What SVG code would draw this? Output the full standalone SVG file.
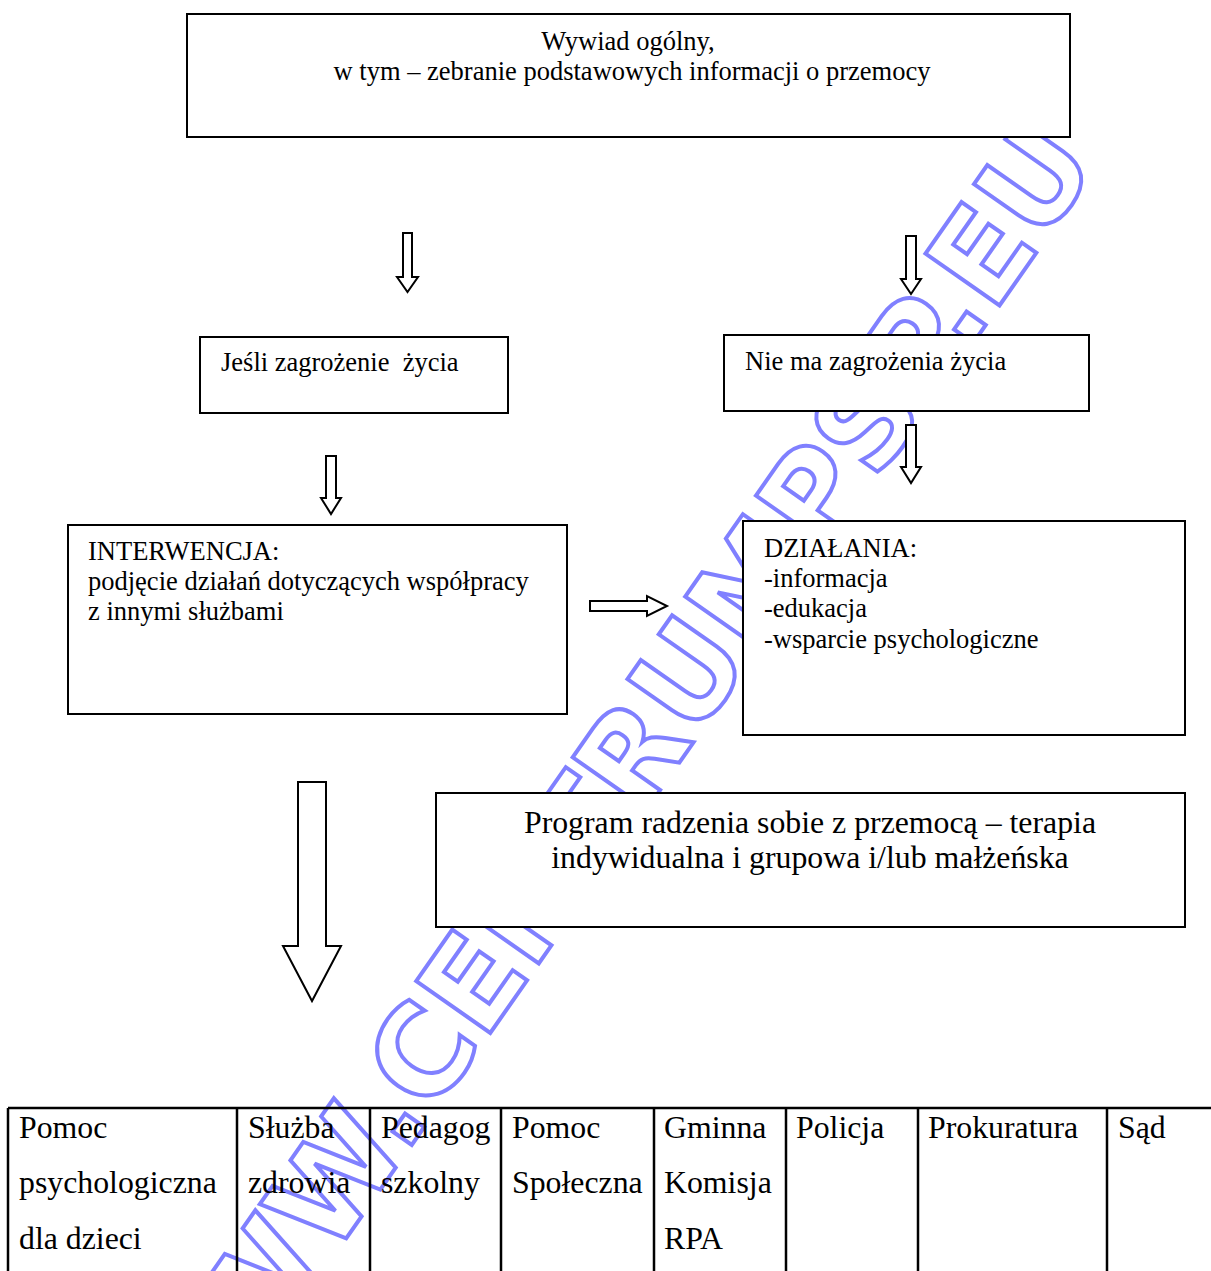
<svg xmlns="http://www.w3.org/2000/svg" width="1211" height="1271" viewBox="0 0 1211 1271">
<style>
.box{fill:#fff;stroke:#000;stroke-width:2}
.arr{fill:#fff;stroke:#000;stroke-width:2;stroke-linejoin:miter}
.t{font-family:"Liberation Serif","Times New Roman",serif;font-size:26.5px;fill:#000}
.tc{text-anchor:middle}
.big{font-size:31.8px}
.wm{font-family:"DejaVu Sans",Verdana,sans-serif;font-weight:bold;font-size:124px;fill:none;stroke:#8080ff;stroke-width:4}
.grid{stroke:#000;stroke-width:2.5;fill:none}
</style>
<rect width="1211" height="1271" fill="#fff"/>
<g id="watermark">
<text class="wm" transform="translate(174.9,1483.1) rotate(-55)">WWW.CENTRUMPSP.EU</text>
</g>
<g id="connectors">
<path class="arr" d="M403,233 H412 V277 H418 L407.5,292 L397,277 H403 Z"/>
<path class="arr" d="M906,236 H916 V279 H921 L911,294 L901,279 H906 Z"/>
<path class="arr" d="M326,456 H336 V498 H341 L331,514 L321,498 H326 Z"/>
<path class="arr" d="M906,425 H916 V467 H921 L911,483 L901,467 H906 Z"/>
<path class="arr" d="M590,601 H647 V596 L667,606 L647,616 V611 H590 Z"/>
<path class="arr" d="M298,782 H326 V946 H341 L312,1001 L283,946 H298 Z"/>
</g>
<g id="n-wywiad">
<rect class="box" x="187" y="14" width="883" height="123"/>
<text class="t tc" x="628" y="50">Wywiad ogólny,</text>
<text class="t tc" x="632" y="80">w tym – zebranie podstawowych informacji o przemocy</text>
</g>
<g id="n-jesli">
<rect class="box" x="200" y="337" width="308" height="76"/>
<text class="t" x="221" y="371" xml:space="preserve">Jeśli zagrożenie  życia</text>
</g>
<g id="n-niema">
<rect class="box" x="724" y="335" width="365" height="76"/>
<text class="t" x="745" y="370">Nie ma zagrożenia życia</text>
</g>
<g id="n-interwencja">
<rect class="box" x="68" y="525" width="499" height="189"/>
<text class="t" x="88" y="560">INTERWENCJA:</text>
<text class="t" x="88" y="590">podjęcie działań dotyczących współpracy</text>
<text class="t" x="88" y="620">z innymi służbami</text>
</g>
<g id="n-dzialania">
<rect class="box" x="743" y="521" width="442" height="214"/>
<text class="t" x="764" y="557">DZIAŁANIA:</text>
<text class="t" x="764" y="587">-informacja</text>
<text class="t" x="764" y="617">-edukacja</text>
<text class="t" x="764" y="648">-wsparcie psychologiczne</text>
</g>
<g id="n-program">
<rect class="box" x="436" y="793" width="749" height="134"/>
<text class="t tc big" x="810" y="833">Program radzenia sobie z przemocą – terapia</text>
<text class="t tc big" x="810" y="868">indywidualna i grupowa i/lub małżeńska</text>
</g>
<g id="n-table">
<path class="grid" d="M8,1108 H1215 M8,1108 V1275 M237,1108 V1275 M370,1108 V1275 M501,1108 V1275 M654,1108 V1275 M786,1108 V1275 M918,1108 V1275 M1107,1108 V1275"/>
<text class="t big" x="19" y="1138">Pomoc</text>
<text class="t big" x="19" y="1193">psychologiczna</text>
<text class="t big" x="19" y="1249">dla dzieci</text>
<text class="t big" x="248" y="1138">Służba</text>
<text class="t big" x="248" y="1193">zdrowia</text>
<text class="t big" x="381" y="1138">Pedagog</text>
<text class="t big" x="381" y="1193">szkolny</text>
<text class="t big" x="512" y="1138">Pomoc</text>
<text class="t big" x="512" y="1193">Społeczna</text>
<text class="t big" x="664" y="1138">Gminna</text>
<text class="t big" x="664" y="1193">Komisja</text>
<text class="t big" x="664" y="1249">RPA</text>
<text class="t big" x="796" y="1138">Policja</text>
<text class="t big" x="928" y="1138">Prokuratura</text>
<text class="t big" x="1118" y="1138">Sąd</text>
</g>
</svg>
